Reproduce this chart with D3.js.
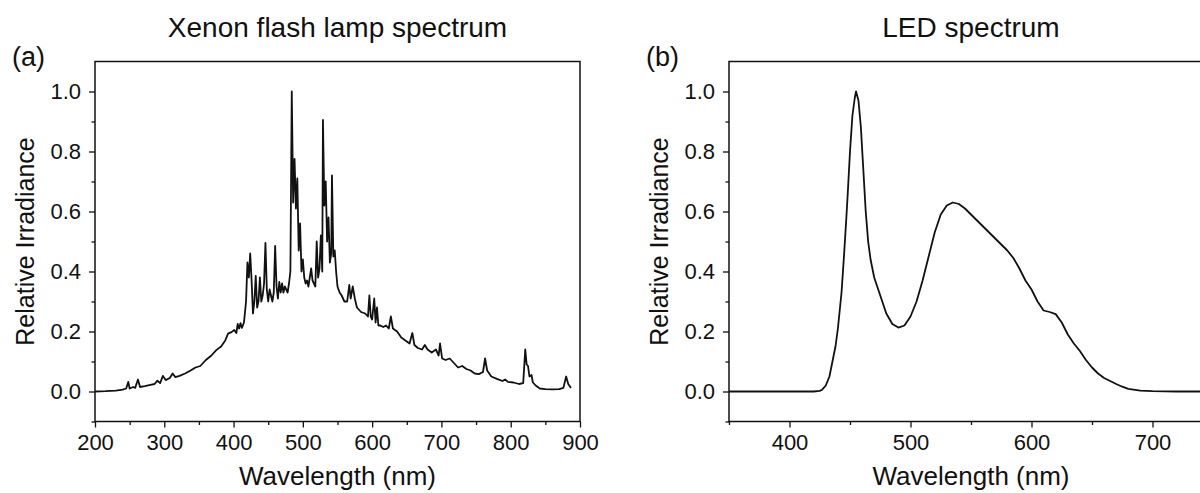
<!DOCTYPE html>
<html>
<head>
<meta charset="utf-8">
<script src="https://cdn.jsdelivr.net/npm/d3@7"></script>
<style>
  html, body { margin: 0; padding: 0; background: #fff; }
  svg { display: block; font-family: Arial, "Liberation Sans", sans-serif; }
</style>
</head>
<body>
<svg id="chart" width="1200" height="493"></svg>
<script>
// ---------------- DATA ----------------
const xenonWavelength = [200,215,230,240,245,248,250,255,258,262,265,272,280,286,290,294,298,302,308,312,316,322,330,338,345,352,360,368,375,382,388,392,397,401,404,406,408,410,412,415,418,420,422,424,426,428,430,432,434,436,438,440,442,444,446,448,450,452,454,456,458,460,462,464,466,468,470,472,474,476,478,480,482,484,486,488,490,492,494,496,498,500,502,504,506,508,510,512,514,516,518,520,522,524,526,528,529,531,533,535,537,539,541,542,544,546,548,550,553,556,560,564,567,569,572,575,578,584,590,594,596,598,600,603,605,607,609,612,616,620,624,627,630,636,642,648,654,658,661,666,672,676,680,686,692,696,698,701,706,712,718,724,730,736,742,748,754,760,763,766,772,780,788,792,796,804,812,818,821,823,825,827,830,832,836,842,850,860,870,876,880,883,887];
const xenonIrradiance = [0.0,0.001,0.003,0.006,0.01,0.032,0.01,0.015,0.012,0.04,0.015,0.018,0.022,0.025,0.036,0.028,0.052,0.038,0.045,0.06,0.048,0.052,0.06,0.07,0.08,0.085,0.105,0.12,0.138,0.15,0.17,0.193,0.198,0.205,0.195,0.225,0.21,0.228,0.212,0.23,0.3,0.43,0.38,0.46,0.37,0.26,0.3,0.385,0.28,0.3,0.38,0.3,0.32,0.36,0.495,0.34,0.3,0.34,0.32,0.3,0.33,0.485,0.35,0.31,0.365,0.33,0.36,0.33,0.35,0.34,0.33,0.36,0.4,1.0,0.63,0.775,0.61,0.71,0.47,0.56,0.4,0.44,0.38,0.36,0.37,0.35,0.38,0.41,0.37,0.36,0.35,0.5,0.38,0.41,0.52,0.4,0.905,0.62,0.7,0.5,0.58,0.43,0.46,0.72,0.45,0.47,0.4,0.35,0.33,0.32,0.3,0.3,0.355,0.31,0.35,0.31,0.28,0.265,0.26,0.25,0.32,0.25,0.24,0.31,0.23,0.28,0.22,0.22,0.215,0.22,0.21,0.25,0.21,0.2,0.18,0.17,0.16,0.195,0.155,0.145,0.14,0.155,0.14,0.13,0.14,0.12,0.16,0.11,0.105,0.11,0.095,0.08,0.085,0.075,0.07,0.06,0.058,0.065,0.11,0.07,0.05,0.042,0.035,0.04,0.032,0.03,0.025,0.028,0.14,0.09,0.085,0.05,0.055,0.03,0.02,0.01,0.008,0.007,0.008,0.012,0.05,0.025,0.012];

const ledWavelength = [350,370,390,410,420,425,427,430,433,435,438,440,443,445,447,448,450,452,454,455,457,459,461,463,465,467,470,475,480,485,490,495,500,505,510,515,520,525,530,535,540,545,550,555,560,565,570,575,580,585,590,595,600,605,610,615,620,625,630,635,640,645,650,655,660,665,670,675,680,690,700,720,750];
const ledIrradiance = [0.0,0.0,0.0,0.0,0.0,0.002,0.006,0.02,0.05,0.09,0.15,0.21,0.33,0.45,0.58,0.65,0.8,0.92,0.98,1.0,0.97,0.88,0.74,0.6,0.5,0.44,0.38,0.32,0.26,0.225,0.213,0.22,0.25,0.3,0.37,0.45,0.53,0.59,0.62,0.63,0.625,0.61,0.59,0.57,0.55,0.53,0.51,0.49,0.47,0.445,0.41,0.37,0.34,0.3,0.27,0.265,0.258,0.23,0.19,0.16,0.135,0.105,0.08,0.06,0.045,0.035,0.025,0.016,0.009,0.003,0.001,0.0,0.0];

const yMajorTicks = [0.0, 0.2, 0.4, 0.6, 0.8, 1.0];
const yMinorTicks = [-0.1, 0.1, 0.3, 0.5, 0.7, 0.9];
const xenonMajorTicks = [200, 300, 400, 500, 600, 700, 800, 900];
const xenonMinorTicks = [250, 350, 450, 550, 650, 750, 850];
const ledMajorTicks = [400, 500, 600, 700];
const ledMinorTicks = [350, 450, 550, 650, 750];

const panels = [
  { tag: "(a)", title: "Xenon flash lamp spectrum", xs: xenonWavelength, ys: xenonIrradiance,
    domain: [200, 900], majors: xenonMajorTicks, minors: xenonMinorTicks, left: 95, right: 580 },
  { tag: "(b)", title: "LED spectrum", xs: ledWavelength, ys: ledIrradiance,
    domain: [350, 750], majors: ledMajorTicks, minors: ledMinorTicks, left: 729, right: 1213 }
];

// ---------------- DRAW ----------------
const svg = d3.select("#chart");
const plotTop = 61.5, plotBottom = 421.5;
const y = d3.scaleLinear().domain([-0.1, 1.1]).range([plotBottom, plotTop]);

panels.forEach(p => {
  const x = d3.scaleLinear().domain(p.domain).range([p.left, p.right]);
  const g = svg.append("g");

  g.append("g").attr("transform", `translate(${p.left},0)`)
    .call(d3.axisLeft(y).tickValues(yMajorTicks).tickSize(6).tickPadding(8).tickFormat(d3.format(".1f")));
  g.append("g").attr("transform", `translate(${p.left},0)`)
    .call(d3.axisLeft(y).tickValues(yMinorTicks).tickSize(3.5).tickFormat(""));
  g.append("g").attr("transform", `translate(0,${plotBottom})`)
    .call(d3.axisBottom(x).tickValues(p.majors).tickSize(6).tickPadding(7).tickFormat(d3.format("d")));
  g.append("g").attr("transform", `translate(0,${plotBottom})`)
    .call(d3.axisBottom(x).tickValues(p.minors).tickSize(3.5).tickFormat(""));

  g.selectAll(".domain").remove();
  g.selectAll(".tick line").attr("stroke", "#111").attr("stroke-width", 1.3);
  g.selectAll(".tick text").attr("fill", "#111").style("font-size", "22px")
    .style("font-family", "Arial, 'Liberation Sans', sans-serif");

  g.append("rect").attr("x", p.left).attr("y", plotTop)
    .attr("width", p.right - p.left).attr("height", plotBottom - plotTop)
    .attr("fill", "none").attr("stroke", "#111").attr("stroke-width", 1.5);

  const line = d3.line().x((d, i) => x(p.xs[i])).y((d, i) => y(p.ys[i]));
  g.append("path").datum(p.ys).attr("d", line)
    .attr("fill", "none").attr("stroke", "#111").attr("stroke-width", 1.8)
    .attr("stroke-linejoin", "round");

  const cx = (p.left + p.right) / 2;
  g.append("text").attr("x", cx).attr("y", 37).attr("text-anchor", "middle")
    .style("font-size", "28px").attr("fill", "#111").text(p.title);
  g.append("text").attr("x", p.left - 83).attr("y", 66)
    .style("font-size", "27px").attr("fill", "#111").text(p.tag);
  g.append("text").attr("x", cx).attr("y", 485).attr("text-anchor", "middle")
    .style("font-size", "26px").attr("fill", "#111").text("Wavelength (nm)");
  g.append("text").attr("transform", `translate(${p.left - 61},${(plotTop + plotBottom) / 2}) rotate(-90)`)
    .attr("text-anchor", "middle")
    .style("font-size", "25px").attr("fill", "#111").text("Relative Irradiance");
});
</script>
</body>
</html>
